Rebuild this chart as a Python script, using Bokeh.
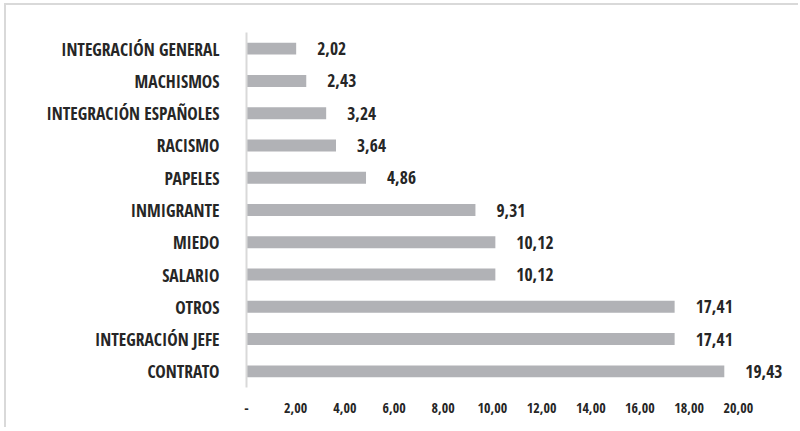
from bokeh.plotting import figure
from bokeh.models import ColumnDataSource, FactorRange, Range1d, FixedTicker
from bokeh.core.properties import value
from bokeh.embed import file_html
from bokeh.resources import INLINE

categories = ["INTEGRACIÓN GENERAL", "MACHISMOS", "INTEGRACIÓN ESPAÑOLES", "RACISMO",
              "PAPELES", "INMIGRANTE", "MIEDO", "SALARIO", "OTROS",
              "INTEGRACIÓN JEFE", "CONTRATO"]
values = [2.02, 2.43, 3.24, 3.64, 4.86, 9.31, 10.12, 10.12, 17.41, 17.41, 19.43]
tick_values = [0, 2, 4, 6, 8, 10, 12, 14, 16, 18, 20]
tick_labels = ["-", "2,00", "4,00", "6,00", "8,00", "10,00", "12,00", "14,00",
               "16,00", "18,00", "20,00"]

FONT = "Open Sans Condensed"

labels = [f"{v:.2f}".replace(".", ",") for v in values]
src = ColumnDataSource(dict(cat=categories, val=values, lab=labels))

p = figure(y_range=FactorRange(factors=list(reversed(categories))),
           x_range=Range1d(0, 22),
           frame_width=541, frame_height=355,
           min_border_left=240, min_border_right=11,
           min_border_top=27, min_border_bottom=40,
           output_backend="svg", toolbar_location=None)

p.styles = {"border-left": "2px solid #d9d9d9", "border-top": "2px solid #d9d9d9",
            "margin-left": "4px", "margin-top": "3px"}

p.hbar(y="cat", right="val", left=0, height=0.37, source=src,
       fill_color="#b1b2b6", line_color=None)

p.text(x="val", y="cat", text="lab", source=src, x_offset=21,
       text_baseline="middle", text_align="left", text_color="#262626",
       text_font=value(FONT), text_font_size="17.5px")

p.outline_line_color = None
p.grid.visible = False

ya = p.yaxis[0]
ya.axis_line_color = "#d9d9d9"
ya.axis_line_width = 2
ya.major_tick_line_color = None
ya.minor_tick_line_color = None
ya.major_label_standoff = 21
ya.major_label_text_font = FONT
ya.major_label_text_font_size = "17.5px"
ya.major_label_text_color = "#262626"

xa = p.xaxis[0]
xa.axis_line_color = None
xa.major_tick_line_color = None
xa.minor_tick_line_color = None
xa.ticker = FixedTicker(ticks=tick_values)
xa.major_label_overrides = {t: l for t, l in zip(tick_values, tick_labels)}
xa.major_label_standoff = 9
xa.major_label_text_font = FONT
xa.major_label_text_font_size = "14px"
xa.major_label_text_color = "#262626"

open("out.html", "w").write(file_html(p, INLINE))
